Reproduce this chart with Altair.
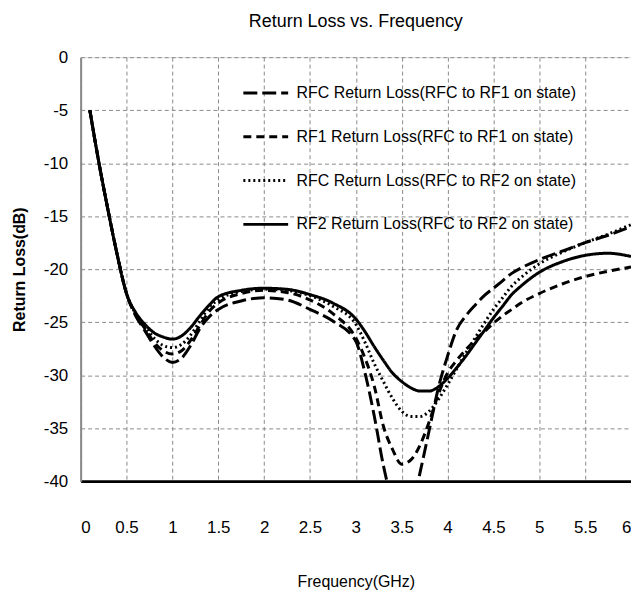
import altair as alt
import pandas as pd

FREQ = [0.1, 0.2, 0.3, 0.4, 0.5, 0.6, 0.7, 0.8, 0.9, 1.0, 1.1, 1.2, 1.3, 1.4, 1.5,
        1.75, 2.0, 2.25, 2.5, 2.75, 3.0, 3.1, 3.2, 3.3, 3.4, 3.5, 3.6, 3.7, 3.8, 3.9,
        4.0, 4.1, 4.2, 4.3, 4.4, 4.5, 4.6, 4.7, 4.8, 5.0, 5.25, 5.5, 5.75, 6.0]

SERIES = [
    "RFC Return Loss(RFC to RF1 on state)",
    "RF1 Return Loss(RFC to RF1 on state)",
    "RFC Return Loss(RFC to RF2 on state)",
    "RF2 Return Loss(RFC to RF2 on state)",
]

RFC_RF1 = [-5, -10, -14.5, -18.7, -22.3, -24.4, -25.8, -27.2, -28.3, -28.8, -28.4, -27.2, -25.6, -24.5, -23.8,
           -23.0, -22.7, -22.9, -23.8, -24.9, -26.8, -29.8, -33.8, -38.5, -42.0, -44.0, -43.0, -39.2, -35.2, -31.2,
           -28.2, -25.7, -24.4, -23.4, -22.5, -21.8, -21.1, -20.4, -19.9, -19.1, -18.3, -17.5, -16.8, -16.0]

RF1_RF1 = [-5, -10, -14.5, -18.7, -22.3, -24.3, -25.6, -26.9, -27.7, -28.0, -27.7, -26.7, -25.3, -24.0, -23.2,
           -22.3, -22.0, -22.2, -22.9, -24.2, -26.5, -28.4, -31.0, -34.8, -37.0, -38.4, -38.0, -36.6, -34.4, -31.8,
           -29.8, -28.6, -27.6, -26.7, -25.9, -25.1, -24.4, -23.8, -23.2, -22.3, -21.4, -20.7, -20.2, -19.8]

RFC_RF2 = [-5, -10, -14.5, -18.7, -22.3, -24.2, -25.4, -26.5, -27.2, -27.4, -27.1, -26.2, -24.9, -23.6, -22.9,
           -22.1, -21.9, -22.0, -22.5, -23.5, -25.2, -26.9, -28.9, -30.6, -32.2, -33.4, -33.9, -33.9, -33.4, -32.3,
           -30.9, -29.4, -27.9, -26.5, -25.1, -23.8, -22.7, -21.6, -20.8, -19.5, -18.4, -17.5, -16.7, -15.8]

RF2_RF2 = [-5, -10, -14.5, -18.7, -22.3, -24.1, -25.2, -26.0, -26.4, -26.6, -26.3, -25.5, -24.4, -23.4, -22.6,
           -22.0, -21.8, -21.9, -22.4, -23.2, -24.7, -25.9, -27.3, -28.6, -29.8, -30.6, -31.2, -31.5, -31.5, -31.1,
           -30.3, -29.3, -28.2, -27.0, -25.8, -24.6, -23.5, -22.4, -21.6, -20.3, -19.3, -18.7, -18.5, -18.8]

X_TICKS = [0, 0.5, 1, 1.5, 2, 2.5, 3, 3.5, 4, 4.5, 5, 5.5, 6]
Y_TICKS = [0, -5, -10, -15, -20, -25, -30, -35, -40]

rows = []
for name, vals in zip(SERIES, [RFC_RF1, RF1_RF1, RFC_RF2, RF2_RF2]):
    for f, v in zip(FREQ, vals):
        rows.append({"series": name, "freq": f, "rl": v})
df = pd.DataFrame(rows)

NARROW = "Liberation Sans Narrow, Arial Narrow, Liberation Sans, sans-serif"

chart = alt.Chart(df).mark_line(
    clip=True, color="black", strokeWidth=3, interpolate="monotone"
).encode(
    x=alt.X("freq:Q",
            scale=alt.Scale(domain=[0, 6], nice=False, zero=False),
            axis=alt.Axis(values=X_TICKS, format="~g", title="Frequency(GHz)",
                          grid=True, gridDash=[4, 3], gridColor="#8a8a8a", gridWidth=1,
                          ticks=False, labelPadding=39, labelFontSize=17, labelFont=NARROW,
                          labelColor="black", domainColor="black", domainWidth=3,
                          titleFont=NARROW, titleFontSize=16, titleFontWeight="normal",
                          titleColor="black", titleY=101, titleBaseline="middle")),
    y=alt.Y("rl:Q",
            scale=alt.Scale(domain=[-40, 0], nice=False, zero=False),
            axis=alt.Axis(values=Y_TICKS, labelExpr="'' + datum.value", title="Return Loss(dB)",
                          grid=True, gridDash=[4, 3], gridColor="#8a8a8a", gridWidth=1,
                          ticks=False, labelPadding=13, labelFontSize=17, labelFont=NARROW,
                          labelColor="black", domainColor="#888888", domainWidth=2,
                          titleFont="Liberation Sans", titleFontSize=16, titleFontWeight="bold",
                          titleColor="black", titleAngle=270, titleX=-61, titleY=213,
                          titleBaseline="middle", titleAlign="center")),
    strokeDash=alt.StrokeDash(
        "series:N",
        scale=alt.Scale(domain=SERIES, range=[[14, 5], [8, 5], [2, 3], [1, 0]]),
        sort=SERIES,
        legend=alt.Legend(title=None, orient="none", legendX=162, legendY=12,
                          symbolType="stroke", symbolSize=2025, symbolStrokeWidth=3,
                          symbolStrokeColor="black", rowPadding=12, labelOffset=7,
                          labelFont=NARROW, labelFontSize=16, labelColor="black",
                          labelLimit=400, padding=0),
    ),
    order=alt.Order("series:N"),
).properties(
    width=553, height=426,
    title=alt.TitleParams("Return Loss vs. Frequency", font=NARROW, fontSize=18,
                          fontWeight="normal", color="black", anchor="middle", offset=17),
    autosize=alt.AutoSizeParams(type="none"),
    padding={"left": 73, "top": 48, "right": 0, "bottom": 112},
).configure_view(
    stroke="black", strokeWidth=2
).configure(background="white")

chart.save("out.html", embed_options={"renderer": "svg", "actions": False})
